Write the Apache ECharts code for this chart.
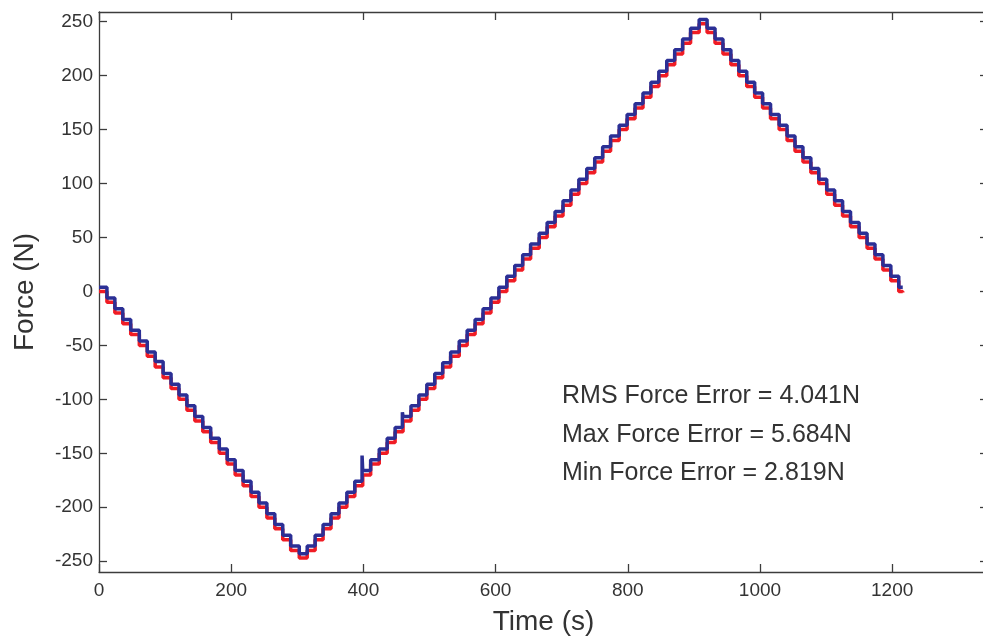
<!DOCTYPE html>
<html>
<head>
<meta charset="utf-8">
<script src="https://cdn.jsdelivr.net/npm/echarts@6/dist/echarts.min.js"></script>
<style>
html,body{margin:0;padding:0;background:#fff;}
#chart{width:983px;height:642px;}
</style>
</head>
<body>
<div id="chart"></div>
<script>
// Step start times (s), read from the staircase
const time = [0,12,24,36,48,61,73,85,97,109,121,133,145,157,169,182,194,206,218,230,242,254,266,278,290,
  303,315,327,339,351,363,375,387,399,411,424,436,448,460,472,484,496,508,520,532,545,557,569,581,593,
  605,617,629,641,653,666,678,690,702,714,726,738,750,762,774,787,799,811,823,835,847,859,871,883,895,
  908,920,932,944,956,968,980,992,1004,1016,1029,1041,1053,1065,1077,1089,1101,1113,1125,1137,1150,1162,1174,1186,1198,
  1210,1216];
// Reference force levels (N), red
const redLevel = [0,-10,-20,-30,-40,-50,-60,-70,-80,-90,-100,-110,-120,-130,-140,-150,-160,-170,-180,-190,-200,-210,-220,-230,-240,
  -247,-240,-230,-220,-210,-200,-190,-180,-170,-160,-150,-140,-130,-120,-110,-100,-90,-80,-70,-60,-50,-40,-30,-20,-10,
  0,10,20,30,40,50,60,70,80,90,100,110,120,130,140,150,160,170,180,190,200,210,220,230,240,
  248,240,230,220,210,200,190,180,170,160,150,140,130,120,110,100,90,80,70,60,50,40,30,20,10,
  0,-1];
// Measured force levels (N), blue
const blueLevel = [4,-6,-16,-26,-36,-46,-56,-65,-76,-86,-96,-106,-116,-126,-136,-146,-156,-166,-176,-186,-196,-206,-216,-226,-236,
  -243,-236,-226,-216,-206,-196,-186,-176,-166,-156,-146,-136,-126,-116,-106,-96,-86,-76,-66,-56,-46,-36,-26,-16,-6,
  4,14,24,34,44,54,64,74,84,94,104,114,124,134,144,154,164,174,184,194,204,214,224,234,244,
  252,244,234,224,214,204,194,184,174,164,154,144,134,124,114,104,94,84,74,64,54,44,34,24,14,
  4,4];
// Transient spikes on the measured force [time, force]
const blueSpikes = [[398,-152],[459,-112]];

const xTicks = [0,200,400,600,800,1000,1200];
const yTicks = [-250,-200,-150,-100,-50,0,50,100,150,200,250];

const redData = time.map((t,i)=>[t, redLevel[i]]);
let blueData = time.map((t,i)=>[t, blueLevel[i]]);
blueData = blueData.concat(blueSpikes).sort((a,b)=>a[0]-b[0]);

const FONT = 'Liberation Sans, Arial, Helvetica, sans-serif';
const axisCol = '#3c3c3c';
const plain = v => String(v);
const chart = echarts.init(document.getElementById('chart'), null, {renderer:'canvas'});
const baseX = {
  type:'value', min:0, max:1345,
  splitLine:{show:false},
  axisLine:{show:true, onZero:false, lineStyle:{color:axisCol, width:1.3}},
  axisTick:{show:true, inside:true, length:8, customValues:xTicks, lineStyle:{color:axisCol, width:1.3}},
};
const baseY = {
  type:'value', min:-260, max:259,
  splitLine:{show:false},
  axisLine:{show:true, onZero:false, lineStyle:{color:axisCol, width:1.3}},
  axisTick:{show:true, inside:true, length:8, customValues:yTicks, lineStyle:{color:axisCol, width:1.3}},
};
chart.setOption({
  animation:false,
  backgroundColor:'#ffffff',
  grid:{left:99, right:-5, top:12, bottom:70, containLabel:false, outerBoundsMode:'none'},
  xAxis:[
    Object.assign({}, baseX, {position:'bottom',
      axisLabel:{show:true, customValues:xTicks, formatter:plain, color:'#333', fontSize:19, fontFamily:FONT, margin:9},
      name:'Time (s)', nameLocation:'middle', nameGap:36,
      nameTextStyle:{color:'#333', fontSize:28, fontFamily:FONT}}),
    Object.assign({}, baseX, {position:'top', axisLabel:{show:false}})
  ],
  yAxis:[
    Object.assign({}, baseY, {position:'left',
      axisLabel:{show:true, customValues:yTicks, formatter:plain, color:'#333', fontSize:19, fontFamily:FONT, margin:6},
      name:'Force (N)', nameLocation:'middle', nameGap:60, nameRotate:90,
      nameTextStyle:{color:'#333', fontSize:28, fontFamily:FONT}}),
    Object.assign({}, baseY, {position:'right', axisLabel:{show:false}})
  ],
  series:[
    {type:'line', name:'Reference', data:redData, step:'end', showSymbol:false, clip:false,
     lineStyle:{color:'#f01c24', width:3.5}, z:2},
    {type:'line', name:'Measured', data:blueData, step:'end', showSymbol:false, clip:false,
     lineStyle:{color:'#2b2f95', width:3.5}, z:3}
  ],
  graphic:[
    {type:'text', left:562, top:384, style:{text:'RMS Force Error = 4.041N', fill:'#333', font:'25px '+FONT}},
    {type:'text', left:562, top:423, style:{text:'Max Force Error = 5.684N', fill:'#333', font:'25px '+FONT}},
    {type:'text', left:562, top:461, style:{text:'Min Force Error = 2.819N', fill:'#333', font:'25px '+FONT}}
  ]
});
</script>
</body>
</html>
